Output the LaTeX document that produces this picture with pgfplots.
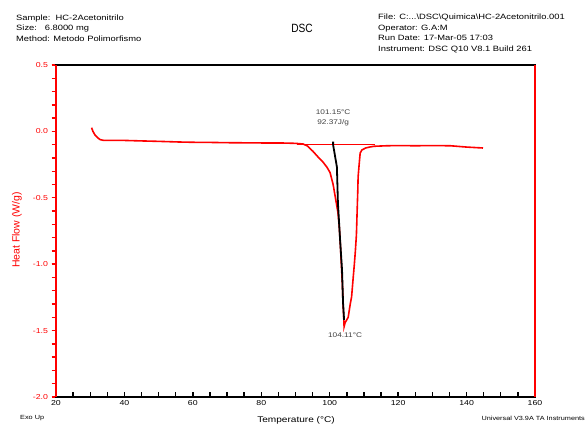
\documentclass[border=0pt]{standalone}
\usepackage{fontspec}
\setmainfont[FakeStretch=1.22]{Liberation Sans}
\newfontfamily\plainfont{Liberation Sans}
\newfontfamily\narrowfont[FakeStretch=0.85]{Liberation Sans}
\usepackage{pgfplots}
\pgfplotsset{compat=1.18}
\definecolor{notegray}{RGB}{64,64,64}

\pgfplotstableread{
T HF
30.4 0.028
30.8 0.000
31.4 -0.027
32.3 -0.050
32.9 -0.062
34.0 -0.068
40.0 -0.068
45.4 -0.072
50.0 -0.075
56.2 -0.080
60.0 -0.082
65.0 -0.083
70.0 -0.085
75.0 -0.086
80.0 -0.087
85.5 -0.087
90.0 -0.090
92.2 -0.095
93.5 -0.110
95.1 -0.150
96.5 -0.190
98.0 -0.230
99.2 -0.270
100.1 -0.310
100.6 -0.360
101.0 -0.400
101.6 -0.490
102.0 -0.550
102.4 -0.610
102.8 -0.720
103.1 -0.850
103.4 -1.000
103.7 -1.150
103.9 -1.300
104.1 -1.400
104.2 -1.470
104.5 -1.440
105.4 -1.400
106.0 -1.300
106.4 -1.245
106.8 -1.120
107.2 -1.000
107.5 -0.900
107.8 -0.780
108.0 -0.614
108.2 -0.450
108.3 -0.343
108.6 -0.250
108.9 -0.163
109.4 -0.140
110.5 -0.125
111.8 -0.117
113.0 -0.112
116.8 -0.108
120.0 -0.107
125.0 -0.108
130.0 -0.107
135.2 -0.108
140.0 -0.118
144.8 -0.125
}\dscdata

\pgfplotstableread{
T HF
101.0 -0.077
101.0 -0.102
102.1 -0.268
102.4 -0.539
103.0 -0.803
103.6 -1.044
103.9 -1.292
104.2 -1.420
}\peakline

\begin{document}
\begin{tikzpicture}
\path[use as bounding box] (0,0) rectangle (586bp,427bp);

% header
\node[anchor=west, inner sep=0, align=left, font=\fontsize{7.7}{10.6}\selectfont]
  at (16bp,398.8bp) {Sample:\ \ HC-2Acetonitrilo\\Size:\ \ \ 6.8000 mg\\Method: Metodo Polimorfismo};
\node[inner sep=0, font=\narrowfont\fontsize{12}{13}\selectfont] at (302bp,399bp) {DSC};
\node[anchor=west, inner sep=0, align=left, font=\fontsize{7.7}{10.6}\selectfont]
  at (378bp,393.5bp) {File: C:...\textbackslash DSC\textbackslash Quimica\textbackslash HC-2Acetonitrilo.001\\Operator: G.A:M\\Run Date: 17-Mar-05 17:03\\Instrument: DSC Q10 V8.1 Build 261};

\begin{axis}[
  at={(56bp,30bp)}, anchor=south west,
  scale only axis, width=479bp, height=332bp,
  xmin=20, xmax=160, ymin=-2.0, ymax=0.5,
  xtick={20,40,...,160}, minor xtick={25,30,...,155},
  ytick={-2.0,-1.5,...,0.5}, minor ytick={-1.9,-1.8,...,0.45},
  xtick pos=bottom, ytick pos=left,
  axis line style={black, line width=1.5bp},
  tick style={line width=1.4bp},
  every x tick/.append style={black},
  every y tick/.append style={red},
  xtick align=inside, ytick align=outside,
  major tick length=4.5bp, minor tick length=4.5bp,
  /pgf/number format/assume math mode=true,
  x tick label style={font=\fontsize{7.2}{8}\selectfont, black},
  y tick label style={font=\fontsize{7.2}{8}\selectfont, red,
    /pgf/number format/fixed, /pgf/number format/fixed zerofill,
    /pgf/number format/precision=1},
  clip=false,
]
\addplot[red, line width=1.6bp] table[x=T, y=HF] {\dscdata};
\addplot[red, line width=1.6bp] coordinates {(90.4,-0.100) (113.2,-0.100)};
\addplot[black, line width=1.8bp] table[x=T, y=HF] {\peakline};
\node[notegray, font=\fontsize{6.8}{8}\selectfont] at (axis cs:101.0,0.146) {101.15\textdegree C};
\node[notegray, font=\fontsize{6.8}{8}\selectfont] at (axis cs:101.0,0.063) {92.37J/g};
\node[notegray, font=\fontsize{6.8}{8}\selectfont] at (axis cs:104.5,-1.533) {104.11\textdegree C};
\draw[red, line width=1.5bp] (rel axis cs:0,0) -- (rel axis cs:0,1);
\draw[red, line width=1.5bp] (rel axis cs:1,0) -- (rel axis cs:1,1);
\end{axis}

\node[red, rotate=90, font=\plainfont\fontsize{10.5}{12}\selectfont] at (17bp,197bp) {Heat Flow (W/g)};
\node[font=\fontsize{8.3}{10}\selectfont] at (296bp,6.5bp) {Temperature (\textdegree C)};
\node[anchor=west, inner sep=0, font=\fontsize{6}{7}\selectfont] at (20bp,9bp) {Exo Up};
\node[anchor=east, inner sep=0, font=\fontsize{6}{7}\selectfont] at (585bp,9bp) {Universal V3.9A TA Instruments};
\end{tikzpicture}
\end{document}
